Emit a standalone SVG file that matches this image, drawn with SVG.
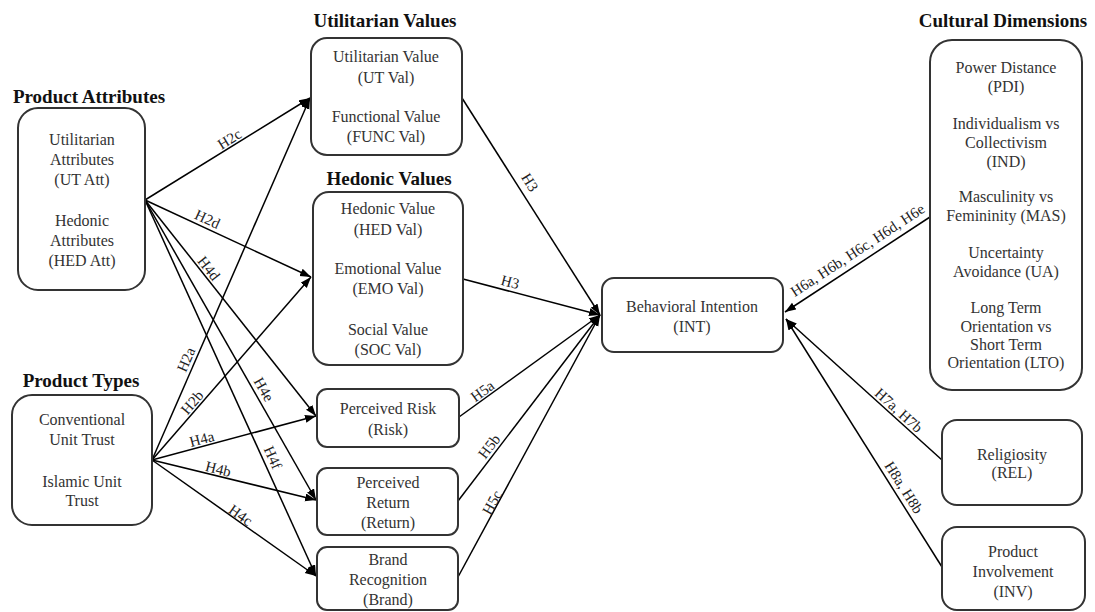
<svg xmlns="http://www.w3.org/2000/svg" width="1095" height="612" viewBox="0 0 1095 612">
<defs>
<marker id="ah" markerUnits="userSpaceOnUse" markerWidth="12" markerHeight="10" refX="11" refY="4" orient="auto">
<path d="M0,0 L11,4 L0,8 Z" fill="#000"/>
</marker>
<style>
.box{fill:#fff;stroke:#333;stroke-width:2}
.t{font-family:"Liberation Serif","Times New Roman","DejaVu Serif",serif;font-size:16px;fill:#333;text-anchor:middle}
.h{font-family:"Liberation Serif","Times New Roman","DejaVu Serif",serif;font-size:19px;font-weight:bold;fill:#111;text-anchor:middle}
.l{font-family:"Liberation Serif","Times New Roman","DejaVu Serif",serif;font-size:15px;fill:#222;text-anchor:middle}
.c{stroke:#000;stroke-width:1.5;fill:none;marker-end:url(#ah)}
</style>
</defs>
<rect width="1095" height="612" fill="#fff"/>

<g id="connectors">
<line class="c" x1="145" y1="200" x2="310" y2="98"/>
<line class="c" x1="145" y1="200" x2="311" y2="277"/>
<line class="c" x1="145" y1="200" x2="316" y2="416"/>
<line class="c" x1="145" y1="200" x2="316" y2="500"/>
<line class="c" x1="145" y1="200" x2="316" y2="576"/>
<line class="c" x1="152" y1="460" x2="310" y2="98"/>
<line class="c" x1="152" y1="460" x2="311" y2="277"/>
<line class="c" x1="152" y1="460" x2="316" y2="416"/>
<line class="c" x1="152" y1="460" x2="316" y2="500"/>
<line class="c" x1="152" y1="460" x2="316" y2="576"/>
<line class="c" x1="462" y1="98" x2="600" y2="315"/>
<line class="c" x1="463" y1="279" x2="600" y2="315"/>
<line class="c" x1="459" y1="417" x2="600" y2="315"/>
<line class="c" x1="458" y1="501" x2="600" y2="315"/>
<line class="c" x1="458" y1="577" x2="600" y2="315"/>
<line class="c" x1="930" y1="217" x2="785" y2="312"/>
<line class="c" x1="942" y1="460" x2="786" y2="319"/>
<line class="c" x1="942" y1="567" x2="786" y2="319"/>

<text class="l" transform="translate(230,140) rotate(-31.7)" dy="4">H2c</text>
<text class="l" transform="translate(207,220) rotate(25)" dy="4">H2d</text>
<text class="l" transform="translate(208,269) rotate(51.8)" dy="4">H4d</text>
<text class="l" transform="translate(187,360) rotate(-66.4)" dy="4">H2a</text>
<text class="l" transform="translate(193,403) rotate(-49.2)" dy="4">H2b</text>
<text class="l" transform="translate(263,390) rotate(60.5)" dy="4">H4e</text>
<text class="l" transform="translate(272,458) rotate(65.7)" dy="4">H4f</text>
<text class="l" transform="translate(202,440) rotate(-14.8)" dy="4">H4a</text>
<text class="l" transform="translate(218,470) rotate(13.8)" dy="4">H4b</text>
<text class="l" transform="translate(240,516) rotate(35.4)" dy="4">H4c</text>
<text class="l" transform="translate(529,183) rotate(57.9)" dy="4">H3</text>
<text class="l" transform="translate(510,283) rotate(15)" dy="4">H3</text>
<text class="l" transform="translate(483,392) rotate(-35.9)" dy="4">H5a</text>
<text class="l" transform="translate(490,447) rotate(-52.6)" dy="4">H5b</text>
<text class="l" transform="translate(493,503) rotate(-61.5)" dy="4">H5c</text>
<text class="l" transform="translate(858,251) rotate(-33.2)" dy="4">H6a, H6b, H6c, H6d, H6e</text>
<text class="l" transform="translate(898,411) rotate(42.1)" dy="4">H7a, H7b</text>
<text class="l" transform="translate(903,488) rotate(57.9)" dy="4">H8a, H8b</text>
</g>

<g id="product-attributes">
<text class="h" x="89" y="103">Product Attributes</text>
<rect class="box" x="18" y="108" width="127" height="182" rx="20"/>
<text class="t"><tspan x="82" y="145">Utilitarian</tspan><tspan x="82" y="165">Attributes</tspan><tspan x="82" y="185">(UT Att)</tspan><tspan x="82" y="226">Hedonic</tspan><tspan x="82" y="246">Attributes</tspan><tspan x="82" y="266">(HED Att)</tspan></text>
</g>

<g id="product-types">
<text class="h" x="81" y="387">Product Types</text>
<rect class="box" x="12" y="395" width="140" height="130" rx="20"/>
<text class="t"><tspan x="82" y="425">Conventional</tspan><tspan x="82" y="445">Unit Trust</tspan><tspan x="82" y="487">Islamic Unit</tspan><tspan x="82" y="506">Trust</tspan></text>
</g>

<g id="utilitarian-values">
<text class="h" x="385" y="27">Utilitarian Values</text>
<rect class="box" x="311" y="38" width="151" height="117" rx="16"/>
<text class="t"><tspan x="386" y="62">Utilitarian Value</tspan><tspan x="386" y="83">(UT Val)</tspan><tspan x="386" y="122">Functional Value</tspan><tspan x="386" y="142">(FUNC Val)</tspan></text>
</g>

<g id="hedonic-values">
<text class="h" x="389" y="185">Hedonic Values</text>
<rect class="box" x="313" y="192" width="150" height="173" rx="16"/>
<text class="t"><tspan x="388" y="214">Hedonic Value</tspan><tspan x="388" y="235">(HED Val)</tspan><tspan x="388" y="274">Emotional Value</tspan><tspan x="388" y="294">(EMO Val)</tspan><tspan x="388" y="335">Social Value</tspan><tspan x="388" y="355">(SOC Val)</tspan></text>
</g>

<g id="perceived-risk">
<rect class="box" x="317" y="389" width="142" height="58" rx="10"/>
<text class="t"><tspan x="388" y="414">Perceived Risk</tspan><tspan x="388" y="435">(Risk)</tspan></text>
</g>

<g id="perceived-return">
<rect class="box" x="317" y="468" width="141" height="67" rx="10"/>
<text class="t"><tspan x="388" y="488">Perceived</tspan><tspan x="388" y="508">Return</tspan><tspan x="388" y="528">(Return)</tspan></text>
</g>

<g id="brand-recognition">
<rect class="box" x="317" y="547" width="141" height="63" rx="10"/>
<text class="t"><tspan x="388" y="565">Brand</tspan><tspan x="388" y="585">Recognition</tspan><tspan x="388" y="605">(Brand)</tspan></text>
</g>

<g id="behavioral-intention">
<rect class="box" x="602" y="278" width="181" height="74" rx="12"/>
<text class="t"><tspan x="692" y="312">Behavioral Intention</tspan><tspan x="692" y="332">(INT)</tspan></text>
</g>

<g id="cultural-dimensions">
<text class="h" x="1003" y="27">Cultural Dimensions</text>
<rect class="box" x="930" y="40" width="152" height="350" rx="22"/>
<text class="t"><tspan x="1006" y="73">Power Distance</tspan><tspan x="1006" y="92">(PDI)</tspan><tspan x="1006" y="129">Individualism vs</tspan><tspan x="1006" y="148">Collectivism</tspan><tspan x="1006" y="167">(IND)</tspan><tspan x="1006" y="202">Masculinity vs</tspan><tspan x="1006" y="221">Femininity (MAS)</tspan><tspan x="1006" y="258">Uncertainty</tspan><tspan x="1006" y="277">Avoidance (UA)</tspan><tspan x="1006" y="313">Long Term</tspan><tspan x="1006" y="332">Orientation vs</tspan><tspan x="1006" y="350">Short Term</tspan><tspan x="1006" y="368">Orientation (LTO)</tspan></text>
</g>

<g id="religiosity">
<rect class="box" x="942" y="420" width="140" height="85" rx="15"/>
<text class="t"><tspan x="1012" y="460">Religiosity</tspan><tspan x="1012" y="478">(REL)</tspan></text>
</g>

<g id="product-involvement">
<rect class="box" x="942" y="527" width="143" height="83" rx="15"/>
<text class="t"><tspan x="1013" y="557">Product</tspan><tspan x="1013" y="577">Involvement</tspan><tspan x="1013" y="597">(INV)</tspan></text>
</g>
</svg>
